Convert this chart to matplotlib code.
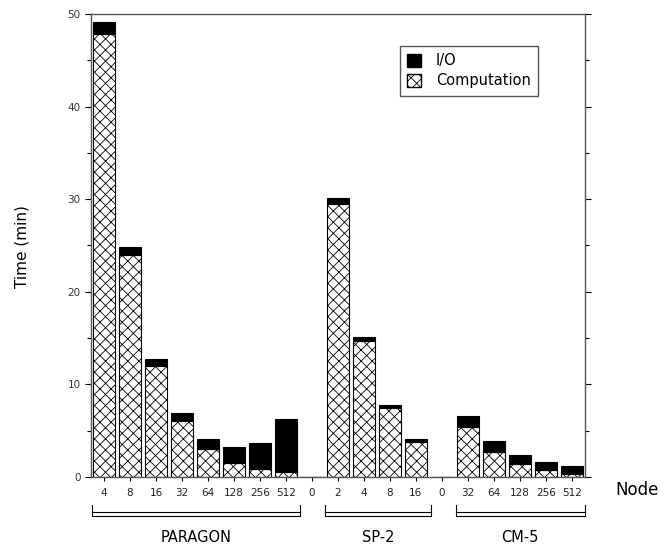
import numpy as np
import matplotlib
matplotlib.use('Agg')
import matplotlib.pyplot as plt
from matplotlib.patches import Patch

# node counts per machine, '0' slots are the gaps between machines
node_labels = ['4', '8', '16', '32', '64', '128', '256', '512', '0',
               '2', '4', '8', '16', '0',
               '32', '64', '128', '256', '512']
computation = [47.8, 24.0, 12.0, 6.0, 3.0, 1.55, 0.85, 0.55, 0,
               29.5, 14.7, 7.4, 3.8, 0,
               5.4, 2.75, 1.4, 0.75, 0.3]
io_time = [1.3, 0.8, 0.7, 0.9, 1.05, 1.7, 2.8, 5.75, 0,
           0.6, 0.4, 0.35, 0.35, 0,
           1.2, 1.1, 0.95, 0.85, 0.85]
groups = ['PARAGON', 'SP-2', 'CM-5']
group_span = [(-0.46, 7.54), (8.5, 12.58), (13.54, 18.5)]

plt.rcParams['hatch.color'] = '#808080'
plt.rcParams['hatch.linewidth'] = 0.6

fig = plt.figure(figsize=(6.69, 5.48), dpi=100)
ax = fig.add_axes([0.136, 0.1296, 0.738, 0.8449])

ind = np.arange(len(node_labels))
width = 0.85
ax.bar(ind, computation, width, color='white', edgecolor='black',
       hatch='xxx', linewidth=0.8)
ax.bar(ind, io_time, width, bottom=computation, color='black',
       edgecolor='black', linewidth=0.8)

ax.set_xlim(-0.5, 18.5)
ax.set_ylim(0, 50)
ax.set_xticks(ind)
ax.set_xticklabels(node_labels, fontsize=7.5, color='#222222')
ax.set_yticks(np.arange(0, 51, 10))
ax.set_yticks(np.arange(5, 50, 10), minor=True)
ax.tick_params(axis='y', labelsize=7.5, labelcolor='#333333', length=4, width=0.8,
               right=True, which='both')
ax.tick_params(axis='y', which='minor', length=3)
ax.tick_params(axis='x', length=3, width=0.8, pad=5)
for sp in ax.spines.values():
    sp.set_color('#555555')
    sp.set_linewidth(1.0)

fig.text(0.033, 0.55, 'Time (min)', rotation=90, fontsize=11,
         ha='center', va='center')
fig.text(0.953, 0.105, 'Node', fontsize=12, ha='center', va='center')

# group brackets below the tick labels
tr = ax.get_xaxis_transform()
for name, (x0, x1) in zip(groups, group_span):
    ax.plot([x0, x0, x1, x1], [-0.0605, -0.0842, -0.0842, -0.0605],
            transform=tr, color='black', lw=0.8, clip_on=False)
    ax.plot([x0, x1], [-0.0756, -0.0756], transform=tr, color='black',
            lw=0.8, clip_on=False)
    ax.text((x0 + x1) / 2, -0.13, name, transform=tr, fontsize=10.5,
            ha='center', va='center')

handles = [Patch(facecolor='black', edgecolor='black', label='I/O'),
           Patch(facecolor='white', edgecolor='black', hatch='xxx',
                 label='Computation')]
ax.legend(handles=handles, loc='upper left', bbox_to_anchor=(0.625, 0.931),
          borderaxespad=0, fancybox=False, edgecolor='#555555', framealpha=1,
          fontsize=10.5, handlelength=1.0, handleheight=1.0, borderpad=0.5,
          labelspacing=0.35, handletextpad=1.0)

fig.savefig('out.png', dpi=100)
